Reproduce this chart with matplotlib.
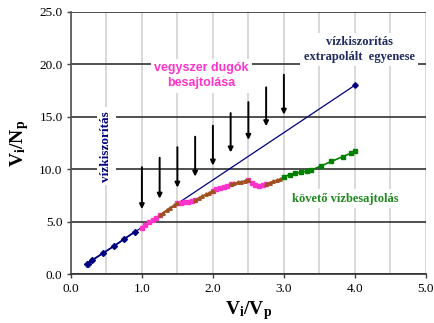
import matplotlib

matplotlib.use("Agg")
import matplotlib.pyplot as plt
from matplotlib.ticker import MultipleLocator

plt.rcParams["mathtext.fontset"] = "custom"
plt.rcParams["mathtext.rm"] = "Liberation Serif"
plt.rcParams["mathtext.bf"] = "Liberation Serif:bold"
plt.rcParams["mathtext.it"] = "Liberation Serif:italic"

# water flood (navy) points and extrapolated line
wf_x = [0.22, 0.245, 0.3, 0.45, 0.6, 0.75, 0.9]
wf_y = [0.95, 1.0, 1.35, 2.0, 2.65, 3.35, 4.05]
extra_x = [0.22, 4.0]
extra_y = [0.95, 18.0]

# polymer slug (pink) and water (brown) segments
pink_x = [
    [1.0, 1.05, 1.1, 1.15, 1.2, 1.25],
    [1.5, 1.55, 1.6, 1.65, 1.7, 1.75],
    [2.0, 2.05, 2.1, 2.15, 2.2, 2.25],
    [2.5, 2.55, 2.6, 2.65, 2.7, 2.75],
]
pink_y = [
    [4.45, 4.7, 4.95, 5.15, 5.4, 5.6],
    [6.75, 6.8, 6.85, 6.9, 6.95, 7.05],
    [7.95, 8.1, 8.2, 8.3, 8.4, 8.55],
    [9.0, 8.65, 8.5, 8.45, 8.5, 8.6],
]
brown_x = [
    [1.25, 1.3, 1.35, 1.4, 1.45, 1.5],
    [1.75, 1.8, 1.85, 1.9, 1.95, 2.0],
    [2.25, 2.3, 2.35, 2.4, 2.45, 2.5],
    [2.75, 2.8, 2.85, 2.9, 2.95, 3.0],
]
brown_y = [
    [5.6, 5.85, 6.1, 6.35, 6.55, 6.75],
    [7.05, 7.25, 7.45, 7.6, 7.75, 7.95],
    [8.55, 8.65, 8.75, 8.8, 8.9, 9.0],
    [8.6, 8.7, 8.85, 8.95, 9.05, 9.25],
]

# follow-up water injection (green)
green_x = [3.0, 3.08, 3.16, 3.24, 3.32, 3.38, 3.52, 3.67, 3.83, 3.95, 4.0]
green_y = [9.25, 9.5, 9.62, 9.72, 9.82, 9.9, 10.3, 10.75, 11.2, 11.55, 11.7]

# slug arrows
arrow_x = [1.0, 1.25, 1.5, 1.75, 2.0, 2.25, 2.5, 2.75, 3.0]
arrow_top = [10.2, 11.1, 12.1, 13.1, 14.15, 15.35, 16.4, 17.8, 19.0]
arrow_tip = [6.2, 7.2, 8.25, 9.3, 10.35, 11.6, 12.8, 14.1, 15.2]

NAVY = "#000080"
PINK = "#FF33CC"
BROWN = "#A0501E"
GREEN = "#008000"
SERIF = "Liberation Serif"

fig = plt.figure(figsize=(4.35, 3.23), dpi=100)
ax = fig.add_axes([0.163, 0.151, 0.816, 0.8125])

ax.plot(extra_x, extra_y, color=NAVY, lw=0.9, zorder=3)
ax.plot([extra_x[-1]], [extra_y[-1]], "D", color=NAVY, ms=2.8, zorder=4)
ax.plot(wf_x, wf_y, "D-", color=NAVY, ms=3, lw=1.2, zorder=4)

for xs, ys in zip(pink_x, pink_y):
    ax.plot(xs, ys, "s-", color=PINK, ms=2.5, lw=1.2, zorder=4)
for xs, ys in zip(brown_x, brown_y):
    ax.plot(xs, ys, "^-", color=BROWN, ms=2.5, lw=1.2, zorder=4)
ax.plot(green_x, green_y, "s-", color=GREEN, ms=2.8, lw=1.2, zorder=4)

for x, y0, y1 in zip(arrow_x, arrow_top, arrow_tip):
    ax.annotate("", xy=(x, y1), xytext=(x, y0),
                arrowprops=dict(arrowstyle="-|>", color="black", lw=1.4,
                                mutation_scale=7, shrinkA=0, shrinkB=0),
                zorder=5)

box = dict(facecolor="white", edgecolor="none", pad=2.5)
ax.text(0.5, 12.2, "vízkiszorítás", rotation=90, ha="center", va="center",
        color=NAVY, fontsize=9.5, fontweight="bold", family=SERIF, bbox=box, zorder=6)
ax.text(1.84, 18.9, "vegyszer dugók\nbesajtolása", ha="center", va="center",
        color=PINK, fontsize=9, fontweight="bold", family="Liberation Sans",
        linespacing=1.3, bbox=box, zorder=6)
ax.text(4.06, 21.4, "vízkiszorítás\nextrapolált  egyenese", ha="center", va="center",
        color="#1F2A60", fontsize=9, fontweight="bold", family=SERIF,
        linespacing=1.3, bbox=box, zorder=6)
ax.text(3.86, 7.2, "követő vízbesajtolás", ha="center", va="center",
        color="#1E8A1E", fontsize=9, fontweight="bold", family=SERIF, bbox=box, zorder=6)

ax.set_xlim(0, 5)
ax.set_ylim(0, 25)
ax.xaxis.set_major_locator(MultipleLocator(1))
ax.xaxis.set_minor_locator(MultipleLocator(0.5))
ax.yaxis.set_major_locator(MultipleLocator(5))
ax.xaxis.set_major_formatter(lambda v, p: f"{v:.1f}")
ax.yaxis.set_major_formatter(lambda v, p: f"{v:.1f}")

ax.grid(axis="x", which="both", color="#D2D2D2", lw=1.2, zorder=1)
ax.grid(axis="y", which="major", color="#202020", lw=1.1, zorder=1)
ax.set_axisbelow(True)

ax.spines["right"].set_visible(False)
ax.spines["top"].set_visible(False)
ax.spines["left"].set_color("#505050")
ax.spines["bottom"].set_color("#303030")
ax.spines["left"].set_linewidth(1.2)
ax.spines["bottom"].set_linewidth(1.2)
ax.tick_params(axis="both", which="both", length=3, width=1, color="#404040",
               labelsize=9.5, pad=3)
ax.tick_params(axis="x", which="minor", length=0)
for lbl in ax.get_xticklabels() + ax.get_yticklabels():
    lbl.set_family(SERIF)

ax.set_xlabel(r"$\mathbf{V_i/V_p}$", fontsize=14, labelpad=3)
ax.set_ylabel(r"$\mathbf{V_i/N_p}$", fontsize=14, labelpad=6)

fig.savefig("out.png", dpi=100)
plt.close(fig)
